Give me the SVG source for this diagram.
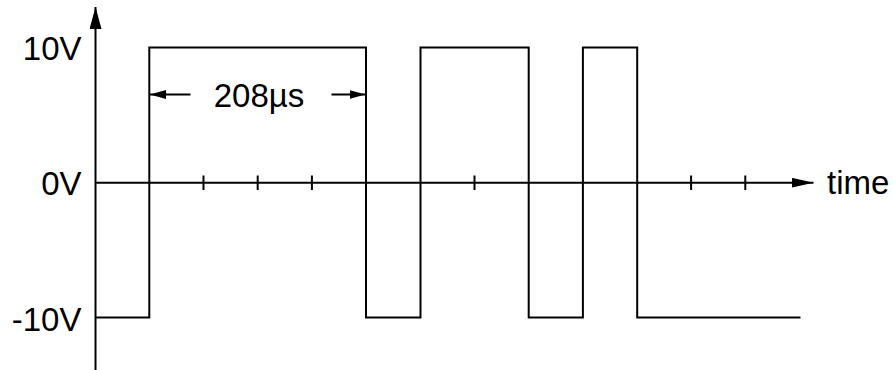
<svg xmlns="http://www.w3.org/2000/svg" width="893" height="370" viewBox="0 0 893 370">
<style>
.ln{stroke:#000;stroke-width:2;fill:none}
.lbl{font-family:"Liberation Sans",Arial,sans-serif;font-size:33px;fill:#000}
</style>
<defs>
<marker id="ahv" viewBox="0 0 22 12" refX="22" refY="6" markerWidth="22" markerHeight="12" markerUnits="userSpaceOnUse" orient="auto">
<path d="M0,0 L22,6 L0,12 Z" fill="#000"/>
</marker>
<marker id="ah" viewBox="0 0 22 10" refX="22" refY="5" markerWidth="22" markerHeight="10" markerUnits="userSpaceOnUse" orient="auto">
<path d="M0,0 L22,5 L0,10 Z" fill="#000"/>
</marker>
<marker id="ahs" viewBox="0 0 16 9" refX="16" refY="4.5" markerWidth="16" markerHeight="9" markerUnits="userSpaceOnUse" orient="auto">
<path d="M0,0 L16,4.5 L0,9 Z" fill="#000"/>
</marker>
</defs>
<rect width="893" height="370" fill="#fff"/>
<g id="axes">
<line class="ln" x1="95.5" y1="370" x2="95.5" y2="7" marker-end="url(#ahv)"/>
<line class="ln" x1="95.5" y1="182.7" x2="813.5" y2="182.7" marker-end="url(#ah)"/>
<g id="ticks" class="ln">
<line x1="203.5" y1="175.5" x2="203.5" y2="190"/>
<line x1="257.7" y1="175.5" x2="257.7" y2="190"/>
<line x1="311.9" y1="175.5" x2="311.9" y2="190"/>
<line x1="474.5" y1="175.5" x2="474.5" y2="190"/>
<line x1="691.1" y1="175.5" x2="691.1" y2="190"/>
<line x1="745.3" y1="175.5" x2="745.3" y2="190"/>
</g>
</g>
<g id="waveform">
<polyline class="ln" points="95.5,317.5 149.3,317.5 149.3,47.5 366,47.5 366,317.5 420.5,317.5 420.5,47.5 528.7,47.5 528.7,317.5 582.9,317.5 582.9,47.5 637.2,47.5 637.2,317.5 800.5,317.5"/>
</g>
<g id="dimension">
<line class="ln" x1="190.5" y1="94.5" x2="150" y2="94.5" marker-end="url(#ahs)"/>
<line class="ln" x1="331.5" y1="94.5" x2="365.5" y2="94.5" marker-end="url(#ahs)"/>
<text class="lbl" x="259" y="107" text-anchor="middle">208µs</text>
</g>
<g id="labels">
<text class="lbl" x="81.5" y="59.5" text-anchor="end">10V</text>
<text class="lbl" x="81.5" y="195" text-anchor="end">0V</text>
<text class="lbl" x="81.5" y="330.5" text-anchor="end">-10V</text>
<text class="lbl" x="827" y="193.5">time</text>
</g>
</svg>
